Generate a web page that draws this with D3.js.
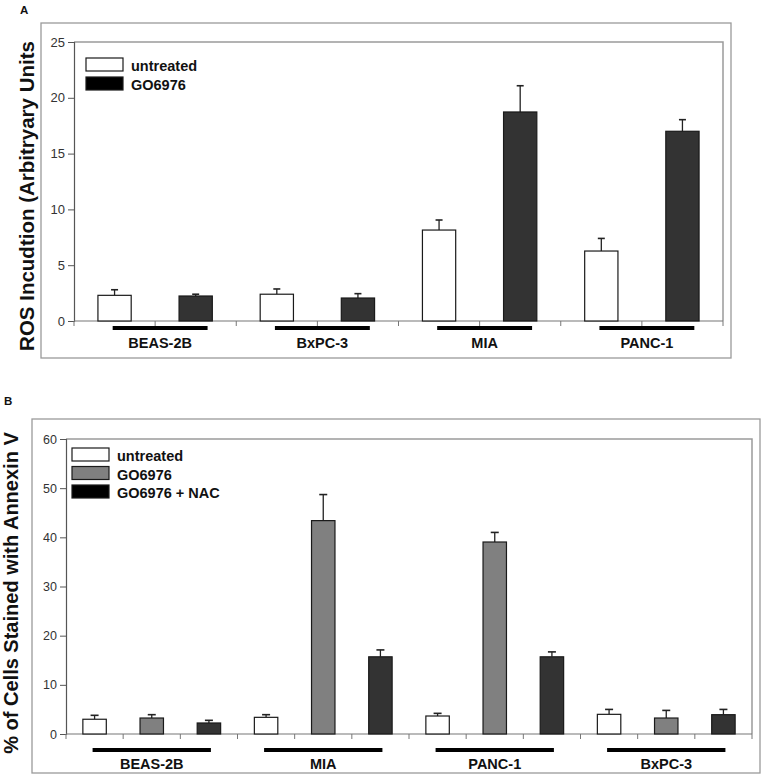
<!DOCTYPE html>
<html>
<head>
<meta charset="utf-8">
<script src="https://cdn.jsdelivr.net/npm/d3@7"></script>
<style>
  html, body { margin: 0; padding: 0; background: #fff; }
  svg { display: block; font-family: "Liberation Sans", Arial, sans-serif; }
</style>
</head>
<body>
<svg id="chart" width="764" height="778"></svg>
<script>
// ---------- Panel A data ----------
const cellLinesA = ["BEAS-2B", "BxPC-3", "MIA", "PANC-1"];
const seriesA = ["untreated", "GO6976"];
const untreatedA = [2.3, 2.4, 8.15, 6.27];
const untreatedErrA = [0.5, 0.47, 0.9, 1.13];
const goA = [2.24, 2.06, 18.73, 17.0];
const goErrA = [0.16, 0.39, 2.35, 1.04];
const yTicksA = [0, 5, 10, 15, 20, 25];
const yTitleA = "ROS Incudtion (Arbitryary Units";

// ---------- Panel B data ----------
const cellLinesB = ["BEAS-2B", "MIA", "PANC-1", "BxPC-3"];
const seriesB = ["untreated", "GO6976", "GO6976 + NAC"];
const untreatedB = [3.0, 3.39, 3.66, 4.0];
const untreatedErrB = [0.8, 0.54, 0.54, 1.0];
const goB = [3.25, 43.4, 39.05, 3.25];
const goErrB = [0.68, 5.3, 1.95, 1.55];
const nacB = [2.24, 15.7, 15.7, 3.93];
const nacErrB = [0.54, 1.4, 1.0, 1.07];
const yTicksB = [0, 10, 20, 30, 40, 50, 60];
const yTitleB = "% of Cells Stained with Annexin V";

const svg = d3.select("#chart");

function drawPanel(cfg) {
  const g = svg.append("g");
  // panel letter
  g.append("text").attr("x", cfg.letterX).attr("y", cfg.letterY)
    .attr("font-size", 11.5).attr("font-weight", "bold").attr("fill", "#111")
    .text(cfg.letter);
  // outer chart border
  g.append("rect").attr("x", cfg.outer[0]).attr("y", cfg.outer[1])
    .attr("width", cfg.outer[2] - cfg.outer[0]).attr("height", cfg.outer[3] - cfg.outer[1])
    .attr("fill", "none").attr("stroke", "#9a9a9a").attr("stroke-width", 1.3);

  const nSeries = cfg.series.length;
  const nSlots = cfg.groups.length * nSeries;
  const x = d3.scaleBand().domain(d3.range(nSlots)).range([cfg.left, cfg.right]).padding(0);
  const y = d3.scaleLinear().domain([0, cfg.yMax]).range([cfg.bottom, cfg.top]);

  // plot area border (top and right)
  g.append("path")
    .attr("d", `M${cfg.left},${cfg.top}H${cfg.right}V${cfg.bottom}`)
    .attr("fill", "none").attr("stroke", "#9a9a9a").attr("stroke-width", 1.5);

  // y axis
  const yAxis = d3.axisLeft(y).tickValues(cfg.yTicks).tickSize(6).tickPadding(3);
  const ya = g.append("g").attr("transform", `translate(${cfg.left},0)`).call(yAxis);
  ya.select(".domain").attr("stroke", "#555").attr("stroke-width", 1.2);
  ya.selectAll(".tick line").attr("stroke", "#555");
  ya.selectAll(".tick text").attr("font-size", cfg.tickFont).attr("fill", "#333")
    .attr("font-family", "'Liberation Sans', Arial, sans-serif");

  // x axis line + boundary ticks
  g.append("line").attr("x1", cfg.left).attr("x2", cfg.right)
    .attr("y1", y(0)).attr("y2", y(0)).attr("stroke", "#777").attr("stroke-width", 1.2);
  const bounds = d3.range(nSlots + 1).map(i => i < nSlots ? x(i) : cfg.right);
  g.selectAll(".xt").data(bounds).join("line")
    .attr("x1", d => d).attr("x2", d => d)
    .attr("y1", y(0)).attr("y2", y(0) + 5)
    .attr("stroke", "#777").attr("stroke-width", 1);

  // bars
  const bw = x.bandwidth() * cfg.barFrac;
  const items = [];
  cfg.groups.forEach((grp, gi) => {
    cfg.series.forEach((s, si) => {
      items.push({ slot: gi * nSeries + si, v: cfg.values[si][gi], e: cfg.errors[si][gi], si });
    });
  });
  // error bars (drawn first so bar top edge overlays)
  const cap = cfg.cap;
  items.forEach(d => {
    const cx = x(d.slot) + x.bandwidth() / 2;
    g.append("line").attr("x1", cx).attr("x2", cx)
      .attr("y1", y(d.v)).attr("y2", y(d.v + d.e))
      .attr("stroke", "#222").attr("stroke-width", 1.3);
    g.append("line").attr("x1", cx - cap / 2).attr("x2", cx + cap / 2)
      .attr("y1", y(d.v + d.e)).attr("y2", y(d.v + d.e))
      .attr("stroke", "#222").attr("stroke-width", 1.6);
  });
  g.selectAll(".bar").data(items).join("rect")
    .attr("x", d => x(d.slot) + (x.bandwidth() - bw) / 2)
    .attr("y", d => y(d.v))
    .attr("width", bw)
    .attr("height", d => y(0) - y(d.v))
    .attr("fill", d => cfg.colors[d.si])
    .attr("stroke", "#1a1a1a").attr("stroke-width", 1.2);

  // group underlines and labels
  cfg.groups.forEach((grp, gi) => {
    const gx0 = x(gi * nSeries);
    const gx1 = (gi + 1) * nSeries < nSlots ? x((gi + 1) * nSeries) : cfg.right;
    const cx = (gx0 + gx1) / 2 + cfg.labelShift;
    const w = (gx1 - gx0) * cfg.lineFrac;
    g.append("line").attr("x1", cx - w / 2).attr("x2", cx + w / 2)
      .attr("y1", cfg.lineY).attr("y2", cfg.lineY)
      .attr("stroke", "#000").attr("stroke-width", 4);
    g.append("text").attr("x", cx).attr("y", cfg.labelY)
      .attr("text-anchor", "middle").attr("font-size", 14.5).attr("font-weight", "bold")
      .attr("fill", "#111").text(grp);
  });

  // legend
  cfg.series.forEach((s, si) => {
    const yy = cfg.legY + si * cfg.legStep;
    g.append("rect").attr("x", cfg.legX).attr("y", yy).attr("width", 37).attr("height", 13)
      .attr("fill", cfg.legColors[si]).attr("stroke", "#1a1a1a").attr("stroke-width", 1.2);
    g.append("text").attr("x", cfg.legX + 45).attr("y", yy + 13)
      .attr("font-size", 14.5).attr("font-weight", "bold").attr("fill", "#111").text(s);
  });

  // y title
  g.append("text")
    .attr("transform", `translate(${cfg.titleX},${cfg.titleY}) rotate(-90)`)
    .attr("text-anchor", "middle").attr("dominant-baseline", "central")
    .attr("font-size", cfg.titleFont).attr("font-weight", "bold").attr("fill", "#111")
    .text(cfg.title);
}

drawPanel({
  letter: "A", letterX: 20, letterY: 14,
  outer: [41, 23, 731, 358],
  left: 74, right: 723, top: 42, bottom: 321,
  yMax: 25, yTicks: yTicksA, tickFont: 13,
  groups: cellLinesA, series: seriesA,
  values: [untreatedA, goA], errors: [untreatedErrA, goErrA],
  colors: ["#ffffff", "#333333"], legColors: ["#ffffff", "#000000"],
  barFrac: 0.41, cap: 7,
  lineY: 328, lineFrac: 0.585, labelY: 348, labelShift: 5,
  legX: 86, legY: 58, legStep: 19,
  title: yTitleA, titleX: 26, titleY: 196, titleFont: 20.5
});

drawPanel({
  letter: "B", letterX: 4, letterY: 405,
  outer: [32, 419, 760, 773],
  left: 66, right: 752, top: 439, bottom: 734,
  yMax: 60, yTicks: yTicksB, tickFont: 12.5,
  groups: cellLinesB, series: seriesB,
  values: [untreatedB, goB, nacB], errors: [untreatedErrB, goErrB, nacErrB],
  colors: ["#ffffff", "#808080", "#333333"], legColors: ["#ffffff", "#808080", "#000000"],
  barFrac: 0.41, cap: 8,
  lineY: 750, lineFrac: 0.69, labelY: 769, labelShift: 0,
  legX: 72, legY: 448, legStep: 18.5,
  title: yTitleB, titleX: 11, titleY: 593, titleFont: 20
});
</script>
</body>
</html>
